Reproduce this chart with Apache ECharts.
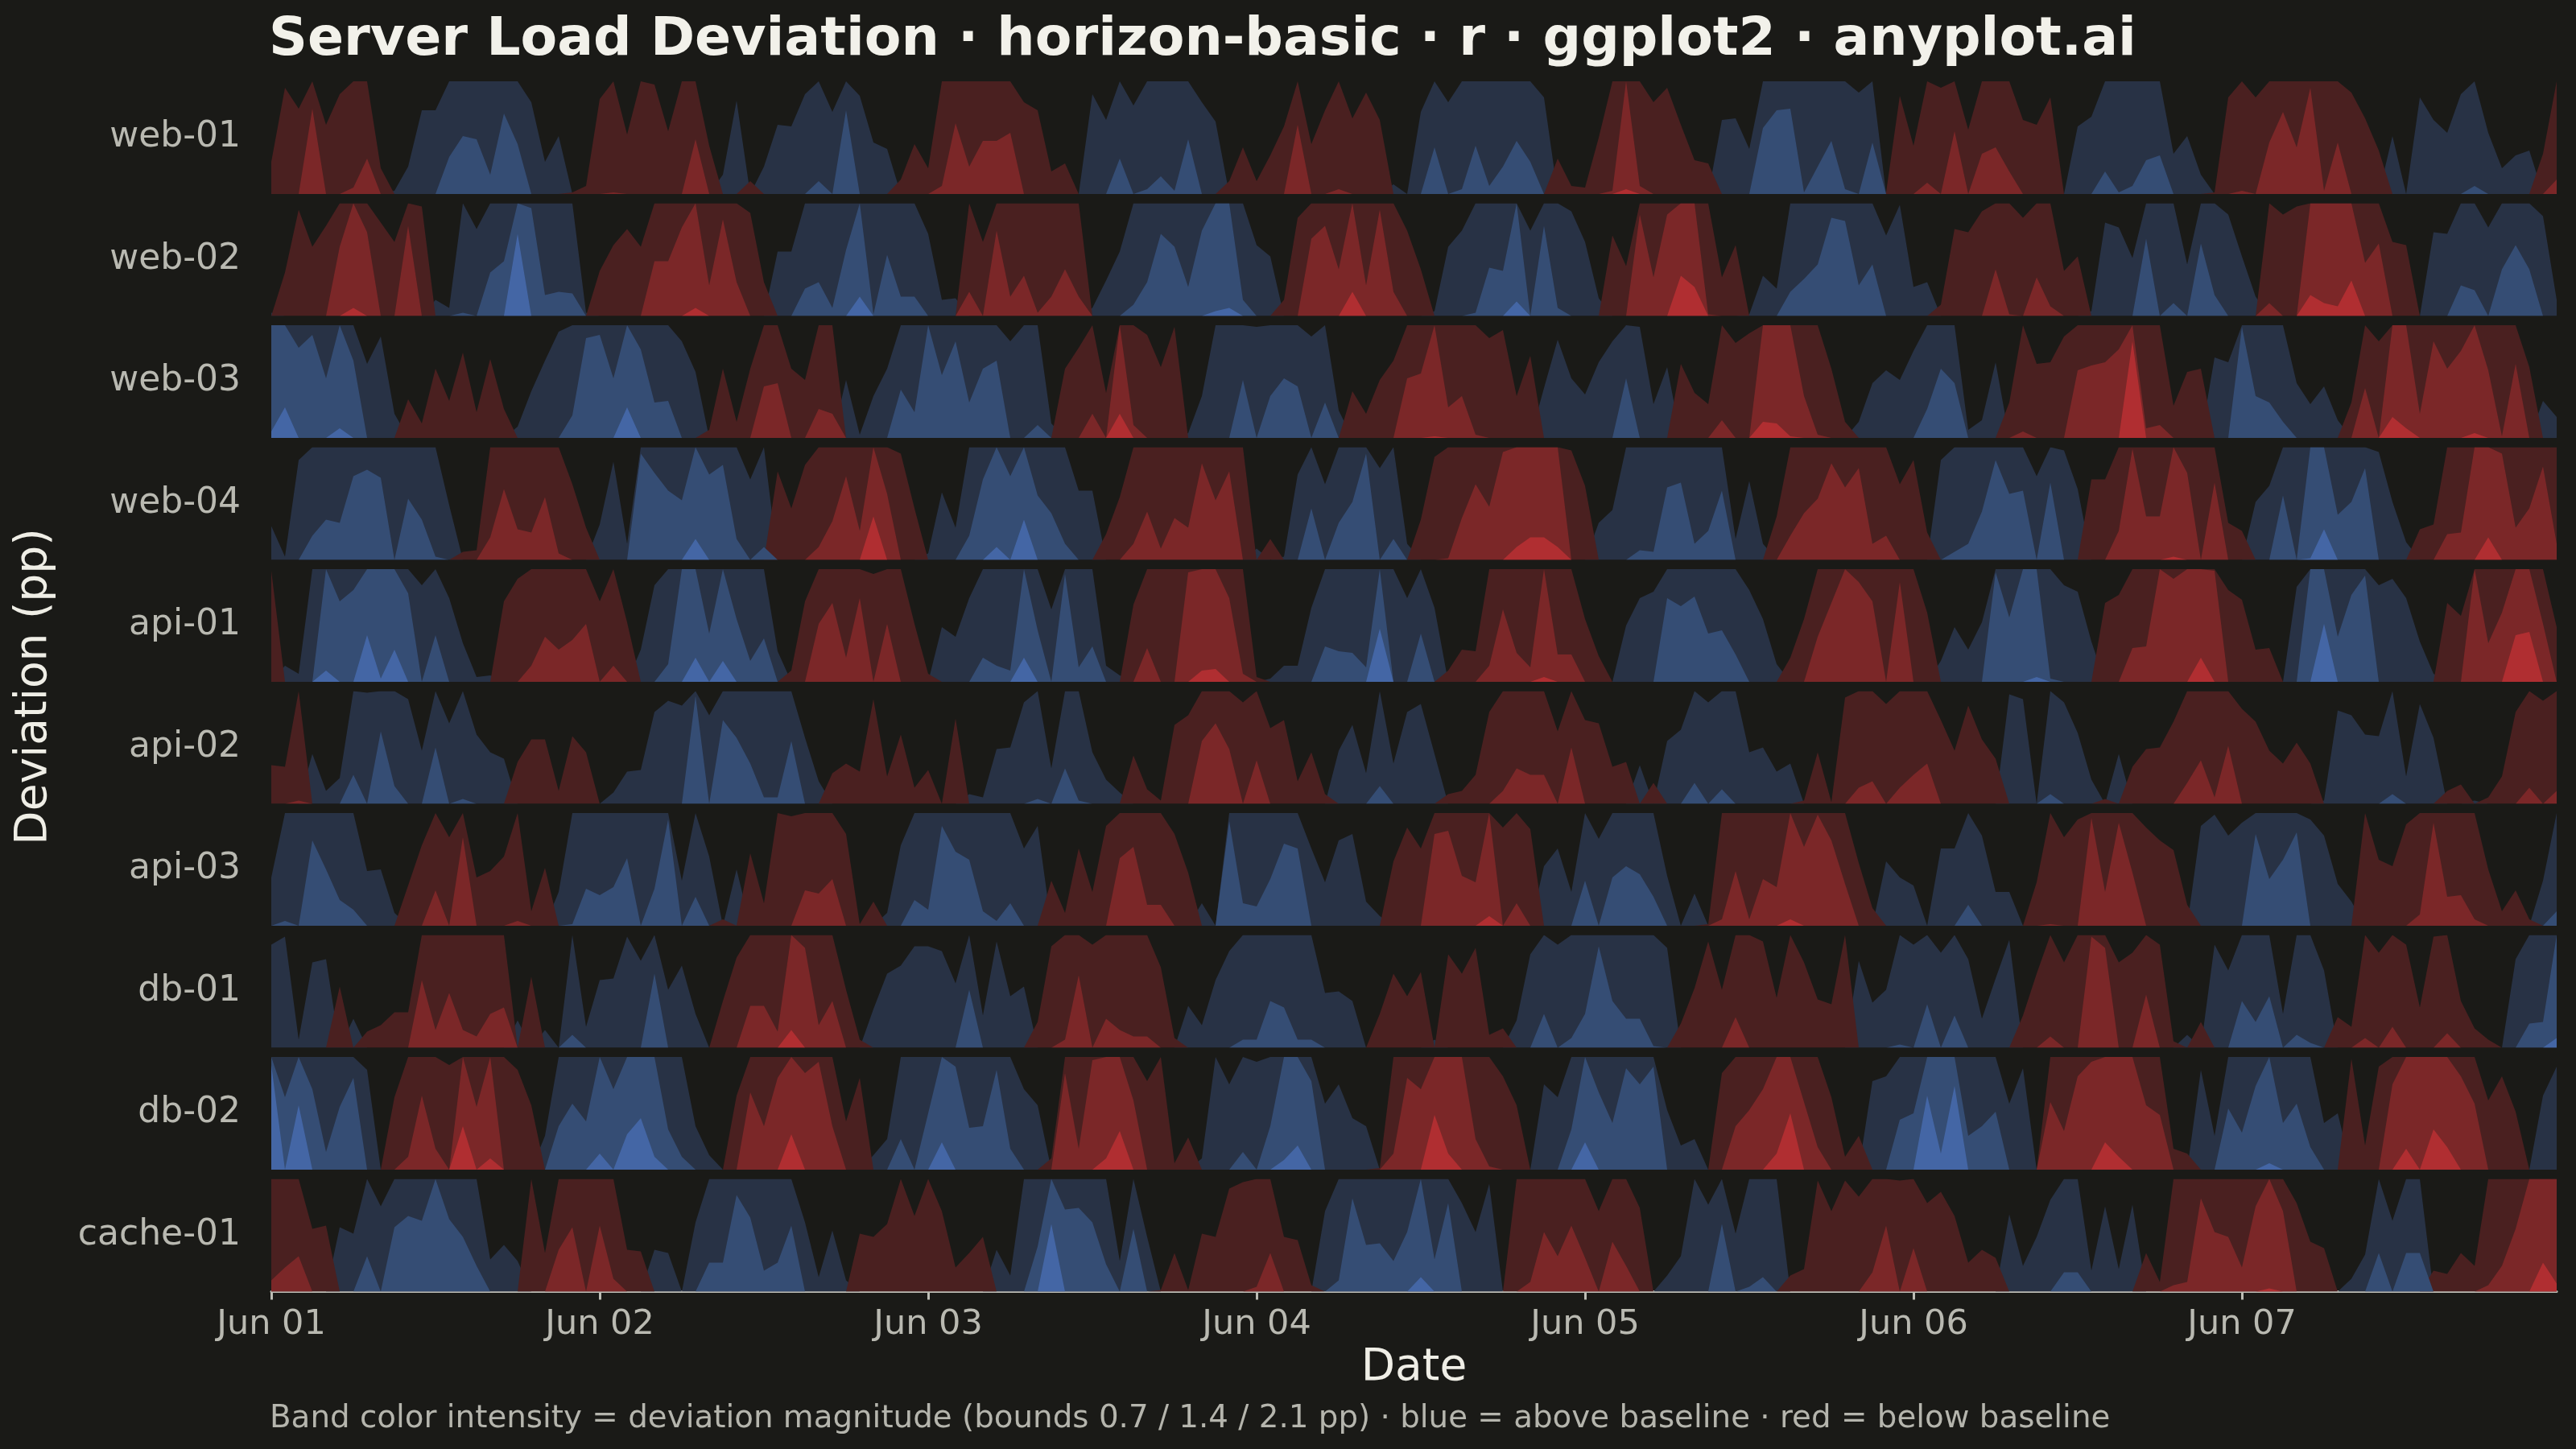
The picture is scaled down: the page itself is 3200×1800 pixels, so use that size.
<!DOCTYPE html>
<html>
<head>
<meta charset="utf-8">
<title>Server Load Deviation · horizon-basic</title>
<script src="https://cdn.jsdelivr.net/npm/echarts@6/dist/echarts.min.js"></script>
<style>
  html, body { margin: 0; padding: 0; background: #1a1a17; }
  #chart { width: 3200px; height: 1800px; }
</style>
</head>
<body>
<div id="chart"></div>
<script>
// deviation from baseline, percentage points, hourly Jun 01 00:00 .. Jun 07 23:00
const servers = ['web-01', 'web-02', 'web-03', 'web-04', 'api-01', 'api-02', 'api-03', 'db-01', 'db-02', 'cache-01'];

const web01 = [
  -0.2, -0.66, -0.53, -1.23, -0.43, -0.62, -0.74, -0.92, -0.16, 0.02, 0.17, 0.52, 0.52, 0.93, 1.06, 1.04, 0.82, 1.2, 1.01, 0.57, 0.2, 0.36, -0.01, -0.05,
  -0.59, -0.71, -0.37, -0.7, -0.68, -0.39, -0.7, -1.04, -0.3, 0.12, 0.58, -0.08, 0.17, 0.43, 0.42, 0.62, 0.78, 0.51, 1.22, 0.61, 0.32, 0.28, -0.09, -0.31,
  -0.16, -0.75, -1.14, -0.87, -1.03, -1.03, -1.08, -0.57, -0.52, -0.14, -0.19, 0.0, 0.62, 0.46, 0.92, 0.55, 0.73, 0.81, 0.72, 1.04, 0.57, 0.45, -0.08, -0.29,
  -0.08, -0.24, -0.42, -1.13, -0.31, -0.52, -0.73, -0.47, -0.63, -0.46, 0.06, 0.0, 0.51, 0.99, 0.57, 0.73, 1.0, 0.75, 0.87, 1.03, 0.9, 0.6, -0.22, -0.05,
  -0.04, -0.35, -0.72, -1.43, -0.75, -0.57, -0.66, -0.43, -0.21, -0.19, 0.46, 0.47, 0.28, 1.11, 1.22, 1.23, 0.71, 0.87, 1.03, 0.73, 0.63, 1.02, -0.01, -0.61,
  -0.3, -0.77, -0.66, -1.09, -0.4, -0.95, -0.99, -0.84, -0.46, -0.43, -0.6, 0.0, 0.42, 0.48, 0.84, 0.71, 0.75, 0.91, 0.94, 0.25, 0.36, 0.12, -0.01, -0.6,
  -0.72, -0.6, -1.02, -1.21, -0.99, -1.36, -0.72, -1.02, -0.63, -0.47, -0.27, 0.36, 0.0, 0.6, 0.46, 0.38, 0.62, 0.75, 0.38, 0.16, 0.24, 0.27, -0.25, -0.79
];
const web02 = [
  0.02, -0.27, -0.66, -0.43, -0.56, -1.13, -1.45, -1.22, -0.58, -0.46, -1.26, -0.68, 0.1, 0.05, 0.72, 0.54, 0.97, 1.04, 1.91, 1.37, 0.83, 0.85, 0.84, 0.02,
  -0.28, -0.44, -0.54, -0.43, -1.04, -1.04, -1.25, -1.45, -0.89, -1.3, -0.91, -0.64, -0.21, 0.4, 0.4, 0.87, 0.91, 0.75, 1.11, 1.52, 0.71, 1.08, 0.82, 0.82,
  0.51, 0.1, 0.11, -0.85, -0.46, -1.23, -0.82, -0.95, -0.72, -0.82, -0.99, -0.82, 0.05, 0.22, 0.4, 0.77, 0.91, 1.21, 1.13, 0.88, 1.23, 1.43, 1.45, 0.8,
  0.44, 0.37, -0.1, -0.61, -1.18, -1.26, -0.99, -1.55, -0.89, -1.36, -0.85, -0.53, -0.29, 0.03, 0.43, 0.53, 0.72, 1.0, 0.98, 1.49, 0.53, 1.26, 0.75, 0.65,
  0.46, 0.11, -0.5, -0.31, -1.33, -0.94, -1.33, -1.65, -1.58, -0.71, -0.24, -0.44, 0.01, 0.25, 0.17, 0.85, 0.93, 1.02, 1.31, 1.29, 0.89, 1.02, 0.5, 0.69,
  0.18, 0.21, -0.07, -0.54, -0.52, -0.65, -0.99, -0.71, -0.61, -0.94, -0.76, -0.28, -0.37, 0.03, 0.58, 0.55, 0.36, 1.18, 0.7, 0.78, 0.32, 1.15, 0.83, 0.63,
  0.37, 0.12, -0.78, -0.63, -0.68, -1.53, -1.48, -1.46, -1.62, -1.03, -1.15, -0.46, -0.44, 0.0, 0.52, 0.51, 0.89, 0.86, 0.55, 0.99, 1.14, 0.99, 0.62, 0.1
];
const web03 = [
  1.44, 1.59, 1.26, 1.34, 1.07, 1.46, 1.18, 0.46, 0.63, 0.15, -0.24, -0.09, -0.43, -0.23, -0.53, -0.16, -0.49, -0.18, 0.07, 0.29, 0.48, 0.66, 0.84, 1.32,
  1.34, 1.07, 1.59, 1.25, 0.92, 0.93, 0.6, 0.41, -0.05, -0.43, -0.1, -0.43, -1.02, -1.04, -0.43, -0.36, -0.88, -0.85, 0.36, 0.02, 0.26, 0.43, 1.0, 0.86,
  1.4, 1.09, 1.3, 0.92, 1.13, 1.18, 0.6, 0.7, 0.78, 0.09, -0.43, -0.56, -0.85, -0.28, -1.55, -0.78, -0.64, -0.44, -0.69, 0.03, 0.26, 0.7, 0.7, 1.06,
  0.69, 0.96, 1.07, 1.02, 0.63, 0.92, 0.17, -0.29, -0.15, -0.36, -0.48, -1.07, -1.1, -1.41, -0.89, -0.96, -0.72, -0.62, -0.67, -0.26, -0.51, 0.31, 0.61, 0.37,
  0.27, 0.47, 0.6, 1.07, 0.69, 0.21, 0.44, -0.46, -0.28, -0.21, -0.81, -0.59, -0.65, -1.5, -1.49, -1.41, -0.96, -0.72, -0.43, -0.1, 0.1, 0.34, 0.42, 0.36,
  0.54, 0.88, 1.13, 1.04, 0.05, 0.11, 0.47, -0.22, -0.74, -0.46, -0.47, -0.63, -1.12, -1.15, -1.17, -1.25, -2.0, -0.76, -0.78, -0.2, -0.41, -0.43, 0.5, 0.47,
  1.39, 0.96, 0.92, 0.8, 0.34, 0.21, 0.32, 0.11, -0.22, -1.01, -0.6, -1.53, -1.46, -0.85, -1.3, -1.13, -1.24, -1.43, -1.12, -0.71, -1.16, -0.44, 0.23, 0.13
];
const web04 = [
  0.21, 0.02, 0.62, 0.85, 0.95, 0.93, 1.22, 1.26, 1.21, 0.7, 1.08, 0.95, 0.72, 0.34, -0.05, -0.06, -0.84, -1.14, -0.89, -0.87, -1.09, -0.74, -0.47, -0.2,
  0.22, 0.61, 0.1, 1.36, 1.24, 1.13, 1.07, 1.53, 1.23, 1.29, 0.83, 0.5, 0.78, -0.55, -0.32, -0.59, -0.78, -0.94, -1.22, -0.88, -1.67, -1.11, -0.66, -0.32,
  0.04, 0.42, 0.2, 0.85, 1.2, 1.48, 1.22, 1.65, 1.1, 0.99, 0.8, 0.43, 0.43, -0.16, -0.39, -0.8, -1.0, -0.77, -0.96, -0.9, -1.3, -1.07, -1.25, -0.7,
  0.07, -0.13, 0.02, 0.53, 1.02, 0.47, 0.93, 1.06, 1.36, 0.57, 0.83, 0.1, -0.25, -0.64, -0.71, -0.96, -1.17, -1.03, -1.37, -1.48, -1.54, -1.54, -1.48, -0.68,
  -0.46, 0.23, 0.31, 0.7, 0.76, 0.75, 1.15, 1.18, 0.8, 0.88, 1.13, 0.13, 0.49, 0.1, -0.27, -0.85, -0.99, -1.08, -1.3, -1.15, -1.27, -0.8, -0.85, -0.47,
  -0.62, -0.17, 0.62, 0.75, 0.8, 1.0, 1.32, 1.11, 1.13, 0.52, 1.18, 0.68, 0.44, -0.5, -0.5, -0.88, -1.39, -0.97, -0.97, -1.42, -1.24, -0.7, -1.18, -0.23,
  -0.18, 0.36, 0.46, 1.1, 0.7, 1.41, 1.59, 0.98, 1.06, 1.27, 0.67, 0.36, 0.11, -0.19, -0.22, -0.86, -0.87, -1.4, -1.54, -1.36, -0.9, -1.02, -1.28, -0.8
];
const api01 = [
  -0.69, 0.1, 0.05, 0.7, 1.47, 1.2, 1.27, 1.69, 1.42, 1.6, 1.25, 0.6, 0.99, 0.52, 0.24, 0.03, 0.04, -0.5, -0.64, -0.8, -0.98, -0.9, -0.96, -1.06,
  -0.5, -0.8, -0.37, 0.2, 0.6, 0.81, 1.4, 1.55, 1.0, 1.53, 1.09, 0.83, 0.97, 0.19, -0.07, -0.5, -1.06, -1.19, -0.85, -1.22, -0.67, -1.06, -0.7, -0.36,
  -0.05, 0.34, 0.28, 0.52, 0.85, 0.8, 0.77, 1.55, 1.02, 0.45, 1.37, 0.79, 0.92, 0.1, 0.04, -0.48, -0.91, -0.7, -0.7, -1.38, -1.47, -1.48, -1.22, -0.75,
  -0.03, 0.02, 0.1, 0.1, 0.46, 0.92, 0.89, 0.88, 0.79, 1.73, 0.7, 0.52, 1.0, 0.46, -0.07, -0.2, -0.19, -0.8, -1.15, -0.88, -0.79, -1.43, -0.87, -0.87,
  -0.39, -0.16, 0.0, 0.35, 0.52, 0.56, 1.22, 1.17, 1.23, 1.0, 1.02, 0.87, 0.57, 0.39, 0.11, -0.15, -0.39, -0.98, -1.19, -1.4, -1.32, -1.2, -0.7, -1.32,
  -0.7, -0.43, 0.13, 0.34, 0.2, 0.37, 1.38, 1.1, 1.4, 1.43, 0.72, 0.6, 0.56, 0.25, -0.49, -0.54, -0.91, -0.92, -1.4, -1.34, -1.4, -1.55, -1.39, -0.57,
  -0.51, -0.2, -0.21, 0.0, 0.59, 1.4, 1.76, 0.98, 1.24, 1.36, 0.6, 0.64, 0.52, 0.25, 0.05, -0.49, -0.41, -1.4, -0.94, -1.13, -1.69, -1.71, -1.06, -0.34
];
const api02 = [
  -0.24, -0.23, -0.72, 0.31, 0.08, 0.16, 0.88, 0.69, 1.15, 0.81, 0.65, 0.33, 1.05, 0.5, 0.73, 0.43, 0.32, 0.28, -0.26, -0.4, -0.4, -0.08, -0.42, -0.32,
  0.0, 0.07, 0.2, 0.21, 0.57, 0.64, 0.61, 1.37, 0.55, 1.22, 1.11, 0.95, 0.74, 0.74, 1.09, 0.41, 0.14, -0.19, -0.25, -0.2, -0.65, -0.17, -0.43, -0.1,
  -0.21, 0.0, -0.53, 0.06, 0.04, 0.34, 0.35, 0.63, 0.73, 0.22, 0.92, 0.72, 0.32, 0.15, 0.07, -0.3, -0.09, -0.02, -0.49, -0.55, -1.09, -1.2, -1.04, -0.63,
  -0.97, -0.47, -0.52, -0.14, -0.32, -0.06, 0.33, 0.49, 0.19, 0.81, 0.25, 0.57, 0.62, 0.31, -0.06, -0.08, -0.18, -0.57, -0.78, -0.92, -0.88, -0.88, -0.45, -1.05,
  -0.52, -0.5, -0.23, -0.26, 0.24, -0.13, 0.39, 0.46, 0.83, 0.63, 0.79, 0.7, 0.32, 0.35, 0.2, 0.25, -0.02, -0.32, -0.01, -0.66, -0.8, -0.84, -0.62, -0.8,
  -0.88, -0.95, -0.52, -0.33, -0.61, -0.4, -0.28, 0.68, 0.65, 0.0, 0.76, 0.63, 0.44, 0.15, -0.03, 0.31, -0.23, -0.34, -0.35, -0.51, -0.83, -0.97, -0.74, -1.06,
  -0.59, -0.51, -0.33, -0.25, -0.38, -0.25, 0.02, 0.58, 0.55, 0.43, 0.42, 0.76, 0.17, 0.62, 0.41, -0.08, -0.12, 0.02, -0.04, -0.17, -0.57, -0.8, -0.64, -0.78
];
const api03 = [
  0.3, 0.73, 0.7, 1.23, 1.05, 0.86, 0.8, 0.34, 0.35, 0.08, -0.25, -0.5, -0.92, -0.55, -1.25, -0.3, -0.34, -0.43, -0.73, -0.09, -0.36, 0.21, 0.71, 0.93,
  0.89, 0.94, 1.12, 0.7, 0.93, 1.36, 0.28, 0.88, 0.43, -0.04, 0.35, -0.45, -0.14, -0.7, -0.68, -0.92, -0.9, -0.99, -0.57, -0.01, -0.15, 0.08, 0.5, 0.86,
  0.8, 1.32, 1.16, 1.11, 0.79, 0.73, 0.84, 0.48, 0.62, -0.28, -0.08, -0.48, -0.21, -0.62, -1.12, -1.19, -0.83, -0.83, -0.57, -0.33, 0.14, 0.0, 1.35, 0.84,
  0.82, 0.99, 1.21, 1.18, 0.48, 0.27, 0.53, 0.57, 0.15, 0.06, -0.4, -0.61, -0.48, -1.27, -1.29, -1.01, -0.97, -1.46, -0.61, -0.84, -0.6, 0.37, 0.48, 0.21,
  0.98, 0.54, 1.0, 1.07, 1.02, 0.88, 0.31, 0.0, 0.2, -0.01, -0.74, -1.04, -0.74, -0.99, -0.94, -1.44, -1.19, -1.39, -1.23, -0.96, -0.39, -0.11, 0.4, 0.3,
  0.25, 0.0, 0.48, 0.48, 0.83, 0.56, 0.21, 0.21, 0.0, -0.27, -0.71, -0.55, -0.66, -1.37, -0.91, -1.34, -1.03, -0.61, -0.53, -0.47, -0.13, 0.62, 0.69, 0.56,
  0.64, 1.27, 0.99, 1.11, 1.28, 0.66, 0.56, 0.26, 0.15, -0.7, -0.41, -0.37, -0.63, -0.77, -1.34, -0.88, -0.89, -0.74, -0.35, -0.09, -0.22, -0.04, 0.28, 0.79
];
const db01 = [
  0.64, 0.69, 0.05, 0.53, 0.55, -0.38, 0.18, -0.1, -0.14, -0.22, -0.22, -1.12, -0.81, -1.04, -0.81, -0.77, -0.91, -0.95, 0.17, -0.44, 0.11, 0.0, 0.78, 0.13,
  0.42, 0.43, 0.69, 0.54, 1.16, 0.36, 0.51, 0.21, 0.0, -0.29, -0.56, -0.96, -0.96, -0.8, -1.51, -1.32, -0.84, -0.99, -0.36, -0.05, 0.24, 0.46, 0.51, 0.63,
  0.63, 0.6, 0.4, 1.06, 0.2, 0.66, 0.32, 0.38, -0.16, -0.63, -0.75, -1.15, -0.64, -0.88, -0.81, -0.77, -0.77, -0.5, -0.06, 0.26, 0.14, 0.42, 0.6, 0.75,
  0.75, 0.99, 0.95, 0.75, 0.75, 0.34, 0.35, 0.29, 0.0, -0.21, -0.46, -0.32, -0.47, 0.05, -0.58, -0.46, -0.62, -0.08, -0.12, 0.17, 0.58, 0.91, 0.64, 0.76,
  0.91, 1.33, 0.99, 0.88, 0.88, 0.71, 0.62, -0.15, -0.37, -0.66, -0.36, -0.89, -0.7, -0.66, -0.31, -0.7, -0.53, -0.3, -0.27, -0.7, 0.54, 0.28, 0.36, 0.72,
  0.64, 0.97, 0.59, 0.9, 0.55, 0.18, 0.43, 0.67, -0.2, -0.46, -0.77, -0.53, -0.7, -1.39, -1.32, -0.53, -0.59, -1.03, -0.64, -0.04, 0.08, -0.16, 0.64, 0.48,
  0.99, 0.86, 1.02, 0.21, 0.78, 0.73, 0.48, -0.19, -0.13, -0.76, -0.59, -0.83, -0.64, -0.25, -0.69, -0.79, -0.29, -0.12, -0.05, 0.0, 0.55, 0.85, 0.86, 1.46
];
const db02 = [
  2.05, 1.15, 1.8, 1.2, 0.81, 1.09, 1.27, 0.62, 0.0, -0.45, -0.78, -1.16, -0.83, -0.65, -1.67, -1.09, -1.47, -0.7, -0.62, -0.4, 0.21, 0.97, 1.11, 1.0,
  1.5, 1.2, 1.62, 1.72, 1.48, 0.95, 0.78, 0.27, 0.09, 0.0, -0.46, -1.18, -0.97, -1.27, -1.62, -1.3, -1.37, -0.97, -0.3, -0.57, 0.09, 0.19, 0.89, 0.7,
  1.05, 1.57, 1.34, 0.96, 0.97, 1.32, 0.83, 0.5, 0.4, -0.07, -1.3, -0.83, -1.38, -1.47, -1.64, -1.13, -0.55, -0.7, -0.04, -0.2, 0.07, 0.7, 0.53, 0.81,
  0.67, 0.97, 1.46, 1.55, 1.25, 0.41, 0.53, 0.32, 0.27, -0.01, -0.8, -1.27, -1.2, -1.74, -1.5, -1.4, -0.89, -0.72, -0.58, -0.4, 0.0, 0.53, 0.45, 0.95,
  1.57, 1.18, 0.99, 1.33, 1.23, 1.34, 0.37, 0.15, 0.19, 0.0, -0.6, -0.97, -1.07, -1.2, -1.5, -1.75, -1.12, -0.84, -0.45, -0.08, -0.21, 0.55, 0.58, 1.01,
  1.05, 1.86, 1.5, 1.92, 0.91, 0.97, 1.06, 0.41, 0.63, 0.0, -1.12, -0.94, -1.28, -1.37, -1.57, -1.48, -1.4, -1.1, -1.04, -0.13, -0.1, 0.62, 0.21, 1.08,
  0.93, 1.22, 1.44, 0.99, 1.11, 0.84, 0.29, 0.35, -0.69, -0.15, -0.64, -1.23, -1.53, -1.4, -1.65, -1.54, -1.28, -1.11, -0.43, -0.58, -0.36, 0.0, 0.46, 0.64
];
const cache01 = [
  -0.77, -0.85, -0.92, -0.39, -0.41, 0.4, 0.36, 0.92, 0.53, 1.1, 1.17, 1.14, 1.4, 1.15, 1.04, 0.86, 0.2, 0.29, 0.19, -0.7, -0.24, -0.96, -1.1, -0.7,
  -1.11, -0.78, -0.26, -0.25, 0.26, 0.24, 0.0, 0.43, 0.88, 0.88, 1.3, 1.16, 0.83, 0.88, 1.11, 0.43, 0.09, 0.38, 0.07, -0.36, -0.34, -0.42, -0.7, -0.47,
  -0.7, -0.5, -0.15, -0.24, -0.34, 0.26, 0.1, 0.7, 0.98, 1.82, 1.21, 1.22, 1.13, 0.87, 0.19, 1.09, 0.34, -0.01, -0.24, -0.01, -0.36, -0.34, -0.64, -0.68,
  -0.73, -0.94, -0.34, -0.32, -0.04, 0.5, 0.77, 1.28, 0.99, 1.0, 0.89, 1.07, 1.49, 0.9, 1.25, 0.55, 0.37, 0.67, 0.0, -0.7, -0.76, -1.07, -0.92, -1.11,
  -0.91, -0.5, -1.01, -0.86, -0.52, 0.0, 0.1, 0.22, 0.7, 0.54, 1.12, 0.36, 0.73, 0.79, 0.7, -0.1, -0.14, -0.69, -0.5, -0.69, -0.59, -0.82, -1.11, -0.69,
  -0.97, -0.55, -0.62, -0.47, -0.18, -0.26, -0.21, 0.48, 0.16, 0.34, 0.57, 0.82, 0.82, 0.13, 0.53, 0.14, 0.54, -0.24, -0.06, -0.74, -0.76, -1.28, -1.07, -1.04,
  -0.85, -1.23, -1.42, -1.2, -0.55, -0.31, -0.27, 0.0, 0.08, 0.23, 0.94, 0.44, 0.94, 0.94, -0.13, -0.11, -0.24, -0.16, -0.74, -0.86, -1.09, -1.4, -1.58, -1.45
];

const rows = [web01, web02, web03, web04, api01, api02, api03, db01, db02, cache01];
const tickHours = [0, 24, 48, 72, 96, 120, 144];
const tickLabels = ['Jun 01', 'Jun 02', 'Jun 03', 'Jun 04', 'Jun 05', 'Jun 06', 'Jun 07'];
const bandSize = 0.7;   // bounds 0.7 / 1.4 / 2.1 pp
const blueBands = ['#283245', '#354d74', '#4466a5'];
const redBands = ['#4a2020', '#7b2728', '#b02e31'];

const BG = '#1a1a17';
const ROW_TOP = 101, ROW_STEP = 151.5, ROW_H = 140;
const PLOT_LEFT = 337, PLOT_W = 2839;

// fold one side of the series into band k (0..2) of a horizon row
function band(values, k, sign) {
  return values.map((v, h) => {
    const m = sign * v;
    const part = m > 0 ? Math.min(Math.max(m - k * bandSize, 0), bandSize) : 0;
    return [h, part];
  });
}

const grids = [], xAxes = [], yAxes = [], series = [];
rows.forEach((values, i) => {
  const last = i === rows.length - 1;
  grids.push({ left: PLOT_LEFT, width: PLOT_W, top: ROW_TOP + ROW_STEP * i, height: ROW_H });
  xAxes.push({
    gridIndex: i,
    type: 'value',
    min: 0,
    max: values.length - 1,
    show: last,
    splitLine: { show: false },
    axisLine: { show: true, onZero: false, lineStyle: { color: '#bdbdb5', width: 3 } },
    axisTick: { show: true, customValues: tickHours, length: 10, lineStyle: { color: '#bdbdb5', width: 3 } },
    axisLabel: {
      customValues: tickHours,
      color: '#b9b9b1',
      fontSize: 43,
      margin: 20,
      formatter: v => tickLabels[tickHours.indexOf(v)] || ''
    },
    name: last ? 'Date' : '',
    nameLocation: 'middle',
    nameGap: 68,
    nameTextStyle: { color: '#efeee6', fontSize: 55 }
  });
  yAxes.push({
    gridIndex: i,
    type: 'value',
    min: 0,
    max: bandSize,
    axisLine: { show: false },
    axisTick: { show: false },
    axisLabel: { show: false },
    splitLine: { show: false },
    name: servers[i],
    nameLocation: 'middle',
    nameRotate: 0,
    nameGap: 38,
    nameTextStyle: { color: '#b9b9b1', fontSize: 44, align: 'right', verticalAlign: 'middle', padding: [8, 0, 0, 0] }
  });
  for (let k = 0; k < 3; k++) {
    [[1, blueBands[k]], [-1, redBands[k]]].forEach(([sign, color]) => {
      series.push({
        type: 'line',
        xAxisIndex: i,
        yAxisIndex: i,
        data: band(values, k, sign),
        showSymbol: false,
        symbol: 'none',
        silent: true,
        z: 2 + k,
        lineStyle: { width: 0 },
        areaStyle: { color: color, opacity: 1 }
      });
    });
  }
});

const chart = echarts.init(document.getElementById('chart'), null, { renderer: 'canvas' });
chart.setOption({
  backgroundColor: BG,
  animation: false,
  textStyle: { fontFamily: 'DejaVu Sans' },
  title: [
    {
      text: 'Server Load Deviation · horizon-basic · r · ggplot2 · anyplot.ai',
      left: PLOT_LEFT - 3,
      top: 17,
      padding: 0,
      textStyle: { color: '#f2f1ea', fontSize: 66.5, fontWeight: 'bold', fontFamily: 'DejaVu Sans' }
    },
    {
      text: 'Band color intensity = deviation magnitude (bounds 0.7 / 1.4 / 2.1 pp) · blue = above baseline · red = below baseline',
      left: PLOT_LEFT - 2,
      top: 1743,
      padding: 0,
      textStyle: { color: '#b5b5ad', fontSize: 38.8, fontWeight: 'normal', fontFamily: 'DejaVu Sans' }
    }
  ],
  graphic: [{
    type: 'text',
    x: 43,
    y: 853,
    rotation: Math.PI / 2,
    style: {
      text: 'Deviation (pp)',
      fill: '#efeee6',
      font: '55px "DejaVu Sans"',
      align: 'center',
      verticalAlign: 'middle'
    }
  }],
  grid: grids,
  xAxis: xAxes,
  yAxis: yAxes,
  series: series
});
</script>
</body>
</html>
